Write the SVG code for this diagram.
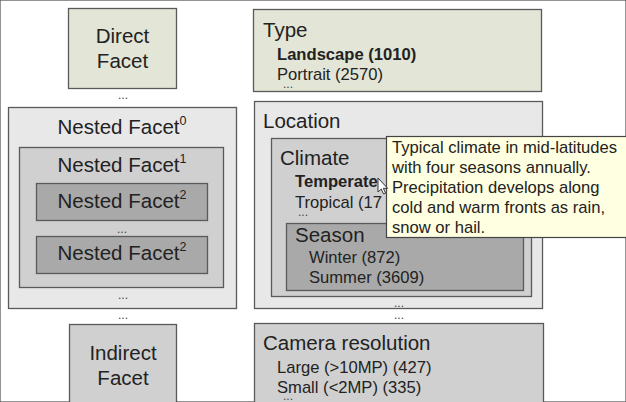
<svg xmlns="http://www.w3.org/2000/svg" width="626" height="402" viewBox="0 0 626 402">
<style>
text{font-family:"Liberation Sans",Arial,sans-serif;fill:#222}
.t{font-size:20.5px}
.s{font-size:16.6px}
.b{font-weight:bold}
.c{text-anchor:middle}
.d{font-size:12px;fill:#444}
.sup{font-size:12.5px}
rect{stroke:#5a5a5a;stroke-width:1.3}
.g{fill:#e3e5d6}
.l{fill:#e8e8e8}
.m{fill:#d0d0d0}
.k{fill:#a9a9a9}
.tip{fill:#ffffe1;stroke:#444;stroke-width:1.2}
</style>
<rect width="626" height="402" fill="#fff" stroke="none"/>

<g id="direct-facet">
<rect class="g" x="68.5" y="8.5" width="108" height="80"/>
<text class="t c" x="122.5" y="43">Direct</text>
<text class="t c" x="122.5" y="68">Facet</text>
</g>
<text class="d c" x="123" y="99">...</text>

<g id="nested-facet-0">
<rect class="l" x="8.5" y="107.5" width="228" height="201"/>
<text class="t c" x="122" y="134">Nested Facet<tspan class="sup" dy="-9">0</tspan></text>
<text class="d c" x="123" y="299">...</text>
</g>
<g id="nested-facet-1">
<rect class="m" x="19.5" y="147.5" width="204" height="140"/>
<text class="t c" x="122" y="172">Nested Facet<tspan class="sup" dy="-9">1</tspan></text>
<text class="d c" x="122" y="233">...</text>
</g>
<g id="nested-facet-2a">
<rect class="k" x="36.5" y="183.5" width="171" height="37"/>
<text class="t c" x="122" y="208">Nested Facet<tspan class="sup" dy="-9">2</tspan></text>
</g>
<g id="nested-facet-2b">
<rect class="k" x="36.5" y="236.5" width="171" height="37"/>
<text class="t c" x="122" y="260">Nested Facet<tspan class="sup" dy="-9">2</tspan></text>
</g>
<text class="d c" x="123" y="319">...</text>

<g id="indirect-facet">
<rect class="m" x="69.5" y="324.5" width="107" height="90"/>
<text class="t c" x="123" y="360">Indirect</text>
<text class="t c" x="123" y="385">Facet</text>
</g>

<g id="type">
<rect class="g" x="253.5" y="9.5" width="288" height="82"/>
<text class="t" x="263" y="37">Type</text>
<text class="s b" x="277" y="60">Landscape (1010)</text>
<text class="s" x="277" y="80">Portrait (2570)</text>
<text class="d" x="283" y="88">...</text>
</g>

<g id="location">
<rect class="l" x="254.5" y="101.5" width="288" height="207"/>
<text class="t" x="263" y="128">Location</text>
<text class="d c" x="399" y="307">...</text>
</g>
<g id="climate">
<rect class="m" x="271.5" y="138.5" width="260" height="158"/>
<text class="t" x="280" y="165">Climate</text>
<text class="s b" x="295" y="187">Temperate</text>
<text class="s" x="295" y="208">Tropical (17</text>
<text class="d" x="298" y="216">...</text>
</g>
<g id="season">
<rect class="k" x="286.5" y="223.5" width="237" height="67"/>
<text class="t" x="295" y="242">Season</text>
<text class="s" x="309" y="263">Winter (872)</text>
<text class="s" x="309" y="283">Summer (3609)</text>
</g>
<text class="d c" x="399" y="319">...</text>

<g id="camera-resolution">
<rect class="m" x="254.5" y="323.5" width="289" height="90"/>
<text class="t" x="263" y="350">Camera resolution</text>
<text class="s" x="277" y="373">Large (&gt;10MP) (427)</text>
<text class="s" x="277" y="393">Small (&lt;2MP) (335)</text>
<text class="d" x="283" y="400">...</text>
</g>

<g id="tooltip">
<rect class="tip" x="386.5" y="136.5" width="250" height="101"/>
<text class="s" x="392" y="152.5">Typical climate in mid-latitudes</text>
<text class="s" x="392" y="172.5">with four seasons annually.</text>
<text class="s" x="392" y="193">Precipitation develops along</text>
<text class="s" x="392" y="213">cold and warm fronts as rain,</text>
<text class="s" x="392" y="233">snow or hail.</text>
</g>

<g id="cursor">
<path d="M378,178 L378,192 L381.2,189 L383.6,194 L385.6,193.2 L383.3,188.3 L387.6,188.3 Z" fill="#fff" stroke="#222" stroke-width="0.9" stroke-linejoin="round"/>
</g>
</svg>
